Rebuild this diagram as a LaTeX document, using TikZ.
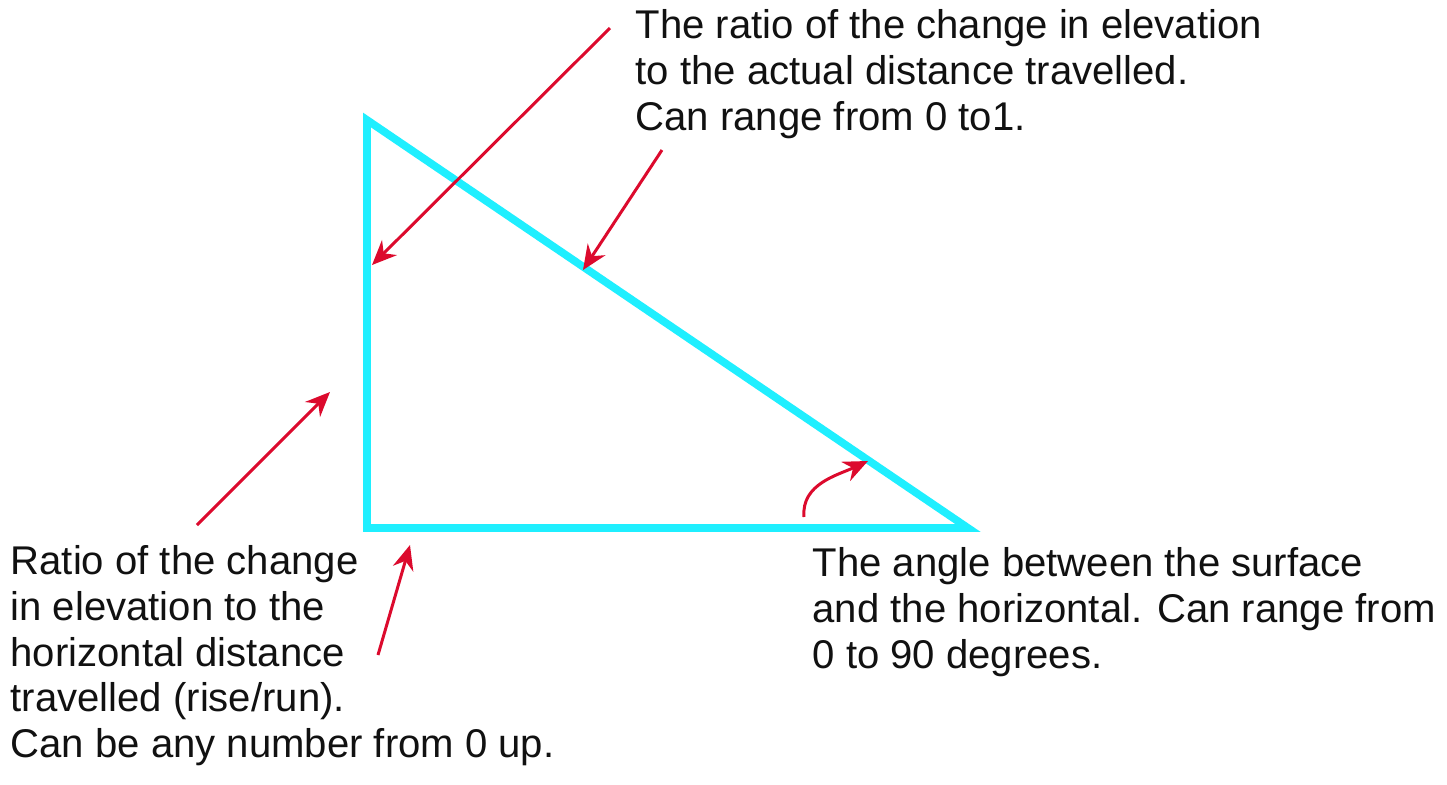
\documentclass[tikz,border=0pt]{standalone}
\usepackage{fontspec}
\setmainfont{Liberation Sans}
\usetikzlibrary{arrows.meta,positioning,calc}
\definecolor{slopeCyan}{HTML}{1FEFFF}
\definecolor{slopeRed}{HTML}{DC0A2D}
\definecolor{ink}{HTML}{111111}

\begin{document}
\begin{tikzpicture}[x=0.01cm,y=-0.01cm,>={Stealth[length=7pt,width=6pt,inset=2.3pt]},
  note/.style={align=left,anchor=north west,inner sep=0pt,text=ink,
    font=\fontsize{11.4}{13}\selectfont},
  pointer/.style={->,slopeRed,line width=0.85pt}]
\useasboundingbox[fill=white] (0,0) rectangle (1447,784);
% the slope triangle
\coordinate (top) at (367,120);
\coordinate (foot) at (367,528);
\coordinate (toe) at (968,528);
\draw[slopeCyan,line width=2.2pt] (top) -- (foot) -- (toe) -- cycle;
% notes
\node[note] (sine) at (635,9) {The ratio of the change in elevation\\to the actual distance travelled.\\Can range from 0 to1.};
\node[note] (grade) at (10,545) {Ratio of the change\\in elevation to the\\horizontal distance\\travelled (rise/run).\\Can be any number from 0 up.};
\node[note] (angle) at (812,547) {The angle between the surface\\and the horizontal. Can range from\\0 to 90 degrees.};
% pointer ends
\coordinate (p1a) at (610,28);   \coordinate (p1b) at (372,265);
\coordinate (p2a) at (662,150);  \coordinate (p2b) at (583,270);
\coordinate (p3a) at (197,525);  \coordinate (p3b) at (330,392);
\coordinate (p4a) at (378,655);  \coordinate (p4b) at (410,545);
\coordinate (p5a) at (804,517);  \coordinate (p5b) at (868,461);
% pointers
\draw[pointer] (p1a) -- (p1b);
\draw[pointer] (p2a) -- (p2b);
\draw[pointer] (p3a) -- (p3b);
\draw[pointer] (p4a) -- (p4b);
\draw[pointer] (p5a) to[out=95,in=205] (p5b);
\end{tikzpicture}
\end{document}
